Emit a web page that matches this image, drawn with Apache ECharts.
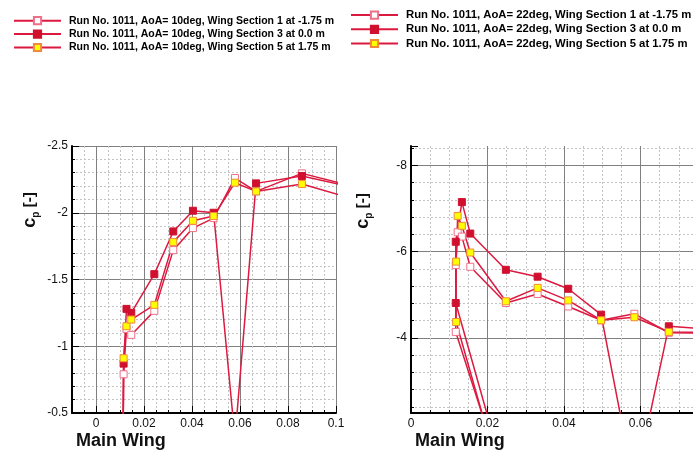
<!DOCTYPE html>
<html>
<head>
<meta charset="utf-8">
<script src="https://cdn.jsdelivr.net/npm/echarts@6/dist/echarts.min.js"></script>
<style>
  html, body { margin: 0; padding: 0; background: #fff; }
  #chart { width: 693px; height: 450px; }
</style>
</head>
<body>
<div id="chart"></div>
<script>
var names10 = [
  'Run No. 1011, AoA= 10deg, Wing Section 1 at -1.75 m',
  'Run No. 1011, AoA= 10deg, Wing Section 3 at 0.0 m',
  'Run No. 1011, AoA= 10deg, Wing Section 5 at 1.75 m'
];
var names22 = [
  'Run No. 1011, AoA= 22deg, Wing Section 1 at -1.75 m',
  'Run No. 1011, AoA= 22deg, Wing Section 3 at 0.0 m',
  'Run No. 1011, AoA= 22deg, Wing Section 5 at 1.75 m'
];

// AoA 10deg, x/c positions and cp (first point is on the lower side, off the plot)
var x10 = [0.0110, 0.0115, 0.0127, 0.0147, 0.0243, 0.0322, 0.0404, 0.0490, 0.0579, 0.0667, 0.0858, 0.1100];
var cp10Sec1 = [0.5, -0.79, -1.13, -1.085, -1.265, -1.72, -1.885, -1.96, -2.26, -2.16, -2.295, -2.185];
var cp10Sec3 = [0.5, -0.87, -1.28, -1.25, -1.54, -1.86, -2.015, -2.0, -0.31, -2.22, -2.275, -2.18];
var cp10Sec5 = [0.5, -0.91, -1.15, -1.20, -1.31, -1.78, -1.94, -1.975, -2.225, -2.16, -2.215, -2.09];

// AoA 22deg
var x22Sec1 = [0.025, 0.0117, 0.0117, 0.0122, 0.0133, 0.0155, 0.0248, 0.0331, 0.0411, 0.0497, 0.0584, 0.0674, 0.0858];
var cp22Sec1 = [-0.46, -4.14, -5.69, -6.45, -6.35, -5.65, -4.81, -5.02, -4.73, -4.41, -4.56, -4.12, -4.10];
var x22Sec3 = [0.025, 0.0117, 0.0117, 0.0133, 0.0155, 0.0248, 0.0331, 0.0411, 0.0497, 0.0584, 0.0674, 0.0858];
var cp22Sec3 = [-0.63, -4.81, -6.23, -7.15, -6.42, -5.58, -5.42, -5.14, -4.54, -0.53, -4.27, -4.15];
var x22Sec5 = [0.025, 0.0118, 0.0118, 0.0122, 0.0133, 0.0155, 0.0248, 0.0331, 0.0411, 0.0497, 0.0584, 0.0674, 0.0858];
var cp22Sec5 = [-0.25, -4.37, -5.77, -6.83, -6.60, -5.98, -4.85, -5.16, -4.87, -4.41, -4.48, -4.14, -4.12];

var font = 'Liberation Sans, Arial, sans-serif';
var lineColor = '#dc1a40';

var markerSec1 = { color: '#ffffff', borderColor: '#ee7088', borderWidth: 1 };
var markerSec3 = { color: '#d0102e', borderColor: '#d0102e', borderWidth: 1 };
var markerSec5 = { color: '#ffff00', borderColor: '#f08a3a', borderWidth: 1 };

function pairs(xs, ys) {
  var out = [];
  for (var i = 0; i < xs.length; i++) {
    out.push([xs[i], ys[i]]);
  }
  return out;
}

function line(name, idx, xs, ys, marker) {
  return {
    name: name,
    type: 'line',
    xAxisIndex: idx,
    yAxisIndex: idx,
    data: pairs(xs, ys),
    symbol: 'rect',
    symbolSize: 7,
    showAllSymbol: true,
    clip: true,
    lineStyle: { color: lineColor, width: 1.5 },
    itemStyle: marker,
    emphasis: { disabled: true }
  };
}

function xAxis(idx, min, max, interval) {
  var ax = {
    type: 'value',
    gridIndex: idx,
    min: min,
    max: max,
    axisLine: { onZero: false, lineStyle: { color: '#000', width: 2 } },
    axisTick: { inside: true, length: 7, lineStyle: { color: '#000' } },
    minorTick: { show: true, splitNumber: 4, length: 3, lineStyle: { color: '#000' } },
    axisLabel: { showMinLabel: idx === 1, margin: 5, fontSize: 12, color: '#111', fontFamily: font },
    splitLine: { show: true, lineStyle: { color: '#808080', width: 1 } },
    minorSplitLine: { show: true, lineStyle: { color: '#c4c4c4', type: [2, 2] } }
  };
  if (interval) {
    ax.interval = interval;
  } else {
    ax.splitNumber = 5;
  }
  return ax;
}

function yAxis(idx, min, max, interval) {
  var ax = {
    type: 'value',
    gridIndex: idx,
    inverse: true,
    min: min,
    max: max,
    axisLine: { onZero: false, lineStyle: { color: '#000', width: 2 } },
    axisTick: { inside: true, length: 7, lineStyle: { color: '#000' } },
    minorTick: { show: true, splitNumber: 5, length: 3, lineStyle: { color: '#000' } },
    axisLabel: { margin: 4, fontSize: 12, color: '#111', fontFamily: font },
    splitLine: { show: true, lineStyle: { color: '#808080', width: 1 } },
    minorSplitLine: { show: true, lineStyle: { color: '#c4c4c4', type: [2, 2] } }
  };
  if (interval) {
    ax.interval = interval;
  } else {
    ax.splitNumber = 3;
    ax.axisLabel.showMinLabel = false;
    ax.axisLabel.showMaxLabel = false;
    ax.splitLine.showMinLine = false;
  }
  return ax;
}

function legend(data, left, top, size, rowH) {
  return {
    data: data,
    orient: 'vertical',
    left: left,
    top: top,
    padding: 0,
    itemWidth: 47,
    itemHeight: 9,
    itemGap: 0,
    selectedMode: false,
    textStyle: {
      fontFamily: font,
      fontSize: size,
      fontWeight: 'bold',
      color: '#000',
      lineHeight: rowH,
      padding: [0, 0, 0, 3]
    }
  };
}

function cpLabel(x, y) {
  return {
    type: 'text',
    x: x,
    y: y,
    rotation: Math.PI / 2,
    style: {
      text: '{c|c}{p|p}{s| [-]}',
      align: 'center',
      verticalAlign: 'middle',
      rich: {
        c: { fontFamily: font, fontSize: 18, fontWeight: 'bold', lineHeight: 22, fill: '#111' },
        p: { fontFamily: font, fontSize: 10, fontWeight: 'bold', lineHeight: 10, verticalAlign: 'bottom', fill: '#111' },
        s: { fontFamily: font, fontSize: 15, fontWeight: 'bold', lineHeight: 22, fill: '#111' }
      }
    }
  };
}

function wingLabel(x) {
  return {
    type: 'text',
    left: x,
    top: 432,
    style: { text: 'Main Wing', fontFamily: font, fontSize: 18, fontWeight: 'bold', fill: '#111' }
  };
}

var option = {
  animation: false,
  backgroundColor: '#fff',
  legend: [legend(names10, 13, 14, 10.5, 13.4), legend(names22, 350, 8, 11.3, 14.2)],
  grid: [
    { left: 72, top: 146, width: 264, height: 267, outerBoundsMode: 'none', containLabel: false },
    { left: 411, top: 146, width: 306, height: 267, outerBoundsMode: 'none', containLabel: false }
  ],
  xAxis: [xAxis(0, -0.01, 0.1), xAxis(1, 0, 0.08, 0.02)],
  yAxis: [yAxis(0, -2.5, -0.5, 0.5), yAxis(1, -8.45, -2.26)],
  graphic: [cpLabel(30, 210), cpLabel(363, 211), wingLabel(76), wingLabel(415)],
  series: [
    line(names10[0], 0, x10, cp10Sec1, markerSec1),
    line(names10[1], 0, x10, cp10Sec3, markerSec3),
    line(names10[2], 0, x10, cp10Sec5, markerSec5),
    line(names22[0], 1, x22Sec1, cp22Sec1, markerSec1),
    line(names22[1], 1, x22Sec3, cp22Sec3, markerSec3),
    line(names22[2], 1, x22Sec5, cp22Sec5, markerSec5)
  ]
};

var chart = echarts.init(document.getElementById('chart'));
chart.setOption(option);
</script>
</body>
</html>
